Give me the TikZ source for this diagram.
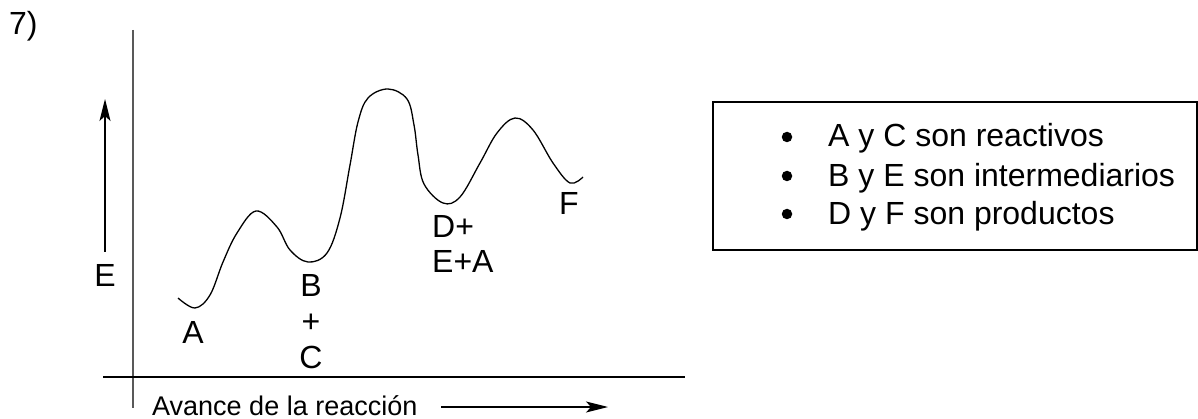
\documentclass[tikz,border=0pt]{standalone}
\usepackage{fontspec}
\setmainfont{Liberation Sans}
\usetikzlibrary{arrows.meta}
\begin{document}
\begin{tikzpicture}[x=1pt,y=-1pt,
  lbl/.style={inner sep=0pt, font=\fontsize{32}{37}\selectfont},
  smalllbl/.style={inner sep=0pt, font=\fontsize{27}{32}\selectfont},
  axisline/.style={line width=1.5pt},
  arr/.style={line width=1.3pt, -{Stealth[length=22pt,width=11pt,inset=5pt]}},
  curve/.style={line width=1.3pt},
  bulletdot/.style={circle, fill=black, inner sep=0pt, minimum size=10.5pt},
  legendbox/.style={draw, line width=2pt}]
\useasboundingbox (0,0) rectangle (1198,419);
\clip (0,0) rectangle (1198,419);

% label
\node[lbl, anchor=base west] (num) at (9,35) {7)};

% axes
\coordinate (vtop) at (133,30);
\coordinate (vbot) at (133,408);
\draw[axisline, draw=black!65] (vtop) -- (vbot);
\coordinate (hl) at (103,377);
\coordinate (hr) at (685,377);
\draw[axisline] (hl) -- (hr);

% energy arrow
\coordinate (Ebot) at (105,252);
\coordinate (Etop) at (105,99);
\draw[arr] (Ebot) -- (Etop);
\node[lbl, anchor=base] (E) at (105,287) {E};

% reaction coordinate
\node[smalllbl, anchor=base west] (avance) at (152,415) {Avance de la reacción};
\coordinate (xs) at (441,407);
\coordinate (xe) at (608,407);
\draw[arr] (xs) -- (xe);

% energy curve
\draw[curve] plot[smooth, tension=0.6] coordinates {
 (178,298) (195,308) (210,295) (223,262) (237,233) (256,211)
 (277,227) (290,250) (308,262) (327,253) (340,218)
 (350,165) (358,122) (368,98) (388,89) (407,99)
 (414,125) (418,155) (424,184) (443,203) (460,197) (480,163)
 (497,133) (515,118) (533,130) (553,163) (570,183) (583,177)};

% species labels
\node[lbl, anchor=base] (A) at (193,343) {A};
\node[lbl, anchor=base] (B) at (311,297) {B};
\node[lbl, anchor=base] (plus) at (311,332) {+};
\node[lbl, anchor=base] (C) at (311,368) {C};
\node[lbl, anchor=base west] (Dp) at (432,238) {D+};
\node[lbl, anchor=base west] (EpA) at (432,273) {E+A};
\node[lbl, anchor=base west] (F) at (559,215) {F};

% legend
\coordinate (lgtl) at (713,102);
\coordinate (lgbr) at (1197,250);
\draw[legendbox] (lgtl) rectangle (lgbr);
\node[bulletdot] (b1) at (787,137) {};
\node[bulletdot] (b2) at (787,176) {};
\node[bulletdot] (b3) at (787,214) {};
\node[lbl, anchor=base west] (t1) at (828,147) {A y C son reactivos};
\node[lbl, anchor=base west] (t2) at (828,187) {B y E son intermediarios};
\node[lbl, anchor=base west] (t3) at (828,225) {D y F son productos};
\end{tikzpicture}
\end{document}
